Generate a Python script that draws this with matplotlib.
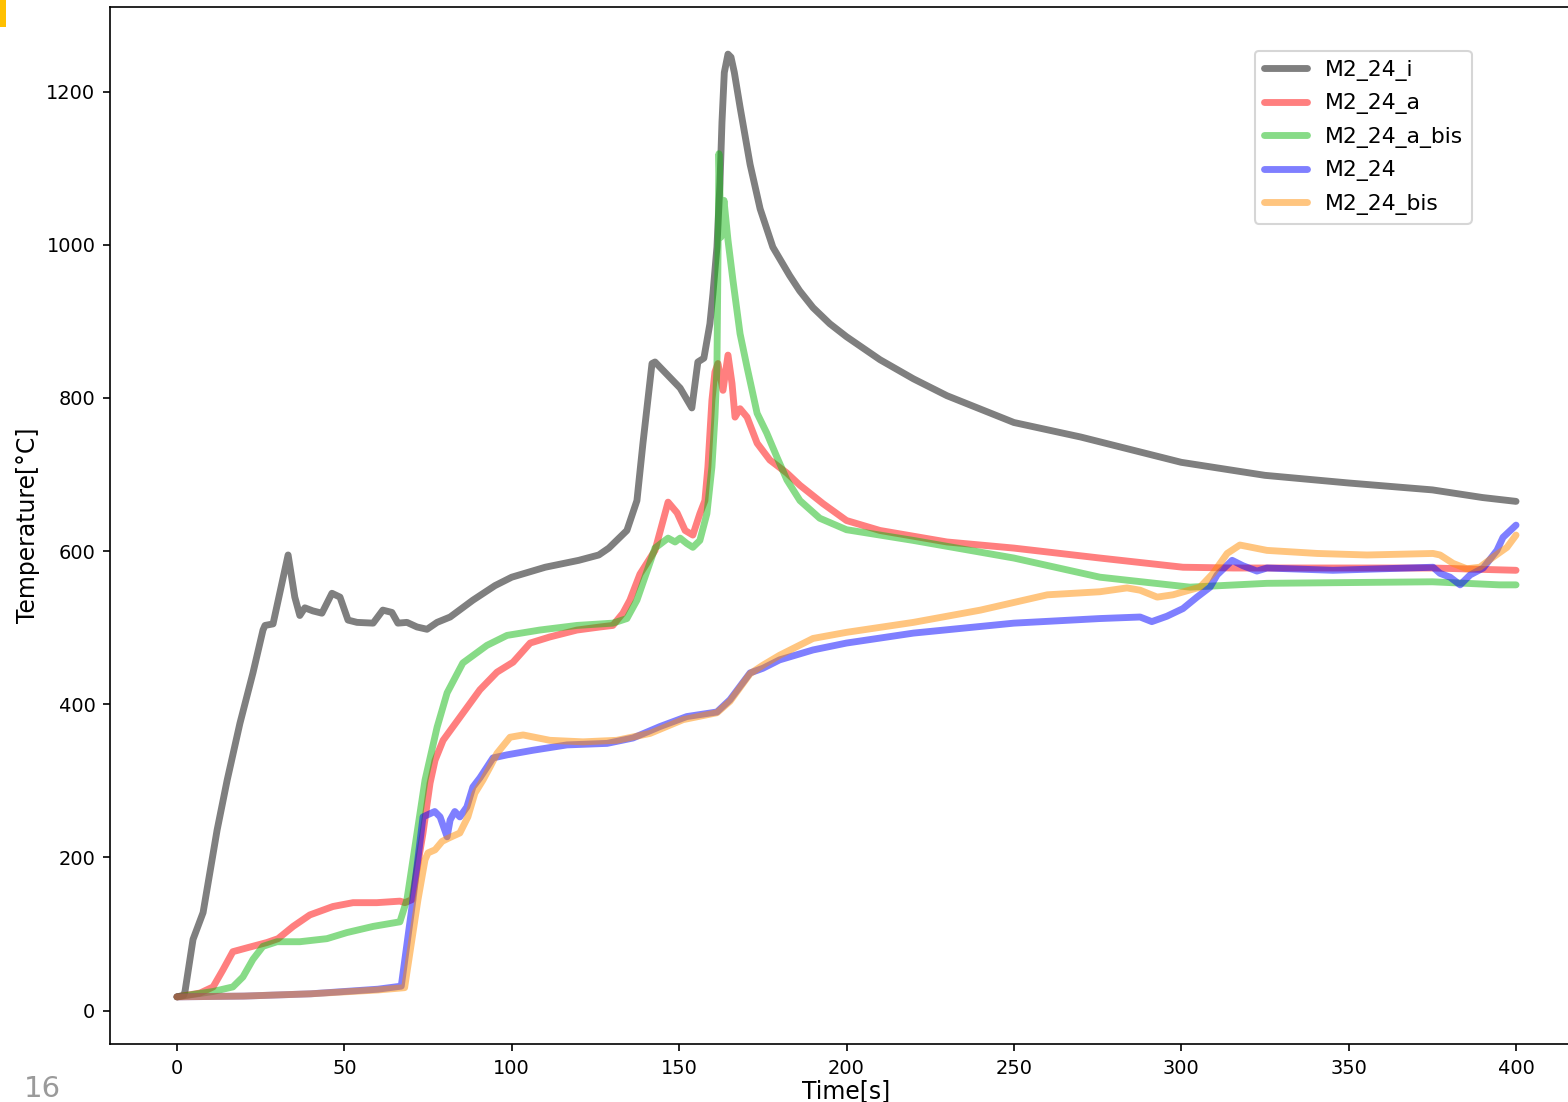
import matplotlib
matplotlib.use("Agg")
import matplotlib.pyplot as plt
from matplotlib.patches import Rectangle

# ---- measured temperature histories ----
t_i = [0, 2, 2.4, 4.8, 7.8, 12, 15, 18.8, 22.7, 25.7, 26.3, 28.7, 33.2, 35.2, 36.7, 38.2,
       40.6, 43.3, 46.3, 48.7, 51.1, 53.8, 58.6, 61.5, 64.2, 66, 68.7, 71.7, 74.7, 77.7,
       81.6, 88.4, 95, 100, 110, 120, 126, 129, 134.4, 137.4, 139.2, 141.9, 142.8, 150.3,
       153.8, 155.6, 157.4, 159.2, 160.1, 161.3, 162.2, 162.8, 163.5, 164.6, 165.5, 166.5,
       168.2, 171.2, 174.2, 178, 183, 186, 190, 195, 200, 210, 220, 230, 250, 270, 300,
       325, 350, 375, 390, 400]
T_i = [18, 20, 25, 93, 128, 236, 301, 375, 441, 497, 503, 505, 595, 540, 516, 526,
       522, 519, 545, 540, 510, 507, 506, 523, 520, 506, 507, 501, 498, 507,
       514, 536, 555, 566, 579, 588, 595, 604, 627, 666, 741, 845, 847, 813,
       787, 847, 852, 897, 936, 997, 1080, 1160, 1225, 1249, 1245, 1225,
       1180, 1105, 1047, 997, 960, 940, 918, 897, 880, 850, 825, 803, 768, 749, 716,
       699, 689, 680, 670, 665]

t_a = [0, 6.9, 10.8, 13.7, 16.7, 20.9, 26.9, 30.2, 34.7, 39.7, 46.6, 52.6, 59.7, 66.6,
       68.1, 70.2, 73.5, 75.6, 77.1, 79.5, 84.5, 90.5, 95.6, 100.4, 105.5, 111.4, 119.5,
       126.4, 130.2, 133.2, 135.3, 138.3, 142.8, 146.7, 149.4, 151.8, 154.1, 156.2, 157.7,
       158.6, 159.8, 160.7, 161.6, 163.1, 164.6, 165.8, 166.7, 168.2, 170.3, 173.3, 177.1,
       182.2, 186.1, 193, 200, 210, 230, 250, 275.7, 300.5, 315.5, 375, 400]
T_a = [18, 23, 31, 53, 77, 82, 89, 94, 110, 125, 136, 141, 141, 143,
       141, 145, 232, 297, 327, 353, 383, 419, 442, 455, 480, 488, 497,
       501, 503, 519, 536, 570, 601, 664, 650, 627, 621, 649, 666,
       710, 797, 834, 845, 810, 856, 819, 775, 786, 775, 741, 719,
       702, 686, 662, 640, 627, 612, 604, 591, 579, 578, 578, 575]

t_a_bis = [0, 10.8, 16.7, 19.7, 22.7, 25.7, 29.9, 36.7, 44.8, 50.8, 58.6, 66.6, 68.7, 69.6,
           74.1, 77.7, 80.7, 85.4, 92.6, 98.6, 108.4, 119.5, 130.2, 134.4, 137.4, 142.8,
           146.7, 148.8, 150.3, 152.3, 154.1, 156.2, 158.3, 159.8, 160.7, 161.3, 161.9,
           162.5, 163.4, 164.6, 166.1, 168.2, 170.3, 173.3, 176.2, 179.2, 182.2, 186.1,
           192, 200, 220, 250, 275.7, 302.6, 325.6, 375, 395, 400]
T_a_bis = [18, 25, 31, 44, 67, 84, 90, 90, 94, 102, 110, 116, 145, 171,
           301, 370, 415, 454, 477, 490, 497, 503, 506, 512, 536, 604,
           617, 612, 617, 610, 605, 614, 649, 710, 775, 840, 1119,
           1010, 1058, 1006, 953, 884, 840, 780, 754, 723, 693, 666,
           643, 628, 614, 591, 566, 553, 558, 560, 556, 556]

t_24 = [0, 20, 40, 60, 67, 70.5, 73.5, 75, 77, 78.6, 80.7, 81.6, 83, 84.5, 86.6, 88.4, 90.5,
        92.6, 94.4, 98.6, 106.3, 116.5, 128.5, 136.2, 144.3, 152.3, 161.3, 165.2, 171.2,
        175, 180, 190, 200, 220, 250, 275.7, 287.7, 291.2, 295.7, 300.5, 304.7, 308.6,
        310.7, 315.2, 318.4, 322.6, 325.6, 345.3, 375.2, 377.3, 380.3, 383.3, 386.3,
        390.2, 394.3, 396.1, 400]
T_24 = [18, 19, 22, 28, 32, 145, 253, 256, 260, 253, 227, 249, 260, 253, 266, 292, 304,
        318, 330, 334, 340, 347, 349, 356, 371, 384, 390, 406, 441,
        447, 458, 471, 480, 493, 506, 512, 514, 508, 515, 525, 540, 553,
        569, 588, 581, 574, 578, 575, 579, 571, 566, 556, 569,
        578, 601, 618, 634]

t_bis = [0, 20, 40, 60, 68, 72, 74.1, 75, 77.1, 79.2, 81, 84.5, 86.9, 89, 91.4, 93.5, 95.6,
         99.5, 103.4, 111.4, 121.3, 131.4, 141.3, 151.2, 161.3, 165.2, 171.2, 175, 180,
         190, 200, 220, 240, 260, 275.7, 283.8, 287.7, 292.8, 297.5, 305.6, 309.5, 313.7,
         317.5, 325.6, 340.6, 355.5, 375.2, 377.3, 381.2, 385.3, 389.2, 393.1, 397.3, 400]
T_bis = [18, 19, 22, 27, 30, 145, 197, 206, 210, 221, 225, 232, 253, 284, 301, 318, 336,
         357, 360, 353, 351, 353, 362, 380, 389, 404, 440, 451, 464,
         486, 494, 507, 523, 543, 547, 552, 549, 540, 543, 553, 571, 597,
         608, 601, 597, 595, 597, 595, 584, 577, 579, 592, 605, 621]

series = [
    ("M2_24_i", t_i, T_i, "black"),
    ("M2_24_a", t_a, T_a, "red"),
    ("M2_24_a_bis", t_a_bis, T_a_bis, "#10b810"),
    ("M2_24", t_24, T_24, "blue"),
    ("M2_24_bis", t_bis, T_bis, "darkorange"),
]

W, H, DPI = 1568, 1102, 150
fig = plt.figure(figsize=(W / DPI, H / DPI), dpi=DPI)
ax = fig.add_axes([110 / W, 58 / H, 1473 / W, 1037 / H])

for name, t, T, c in series:
    ax.plot(t, T, color=c, alpha=0.5, lw=3.3, label=name,
            solid_joinstyle="round", solid_capstyle="round")

ax.tick_params(labelsize=9.3)
ax.set_xlabel("Time[s]", fontsize=11.3, labelpad=0.5)
ax.set_ylabel("Temperature[°C]", fontsize=11.3, labelpad=3)
ax.legend(loc="upper left", bbox_to_anchor=(0.7773, 0.9576), borderaxespad=0,
          fontsize=10.5, labelspacing=0.575)

# page decorations
fig.patches.append(Rectangle((0, 1 - 27 / H), 6 / W, 27 / H, transform=fig.transFigure,
                             facecolor="#ffc000", edgecolor="none"))
fig.text(24 / W, 5 / H, "16", fontsize=14, color="#9a9a9a", va="baseline", ha="left")

fig.savefig("out.png", dpi=DPI)
